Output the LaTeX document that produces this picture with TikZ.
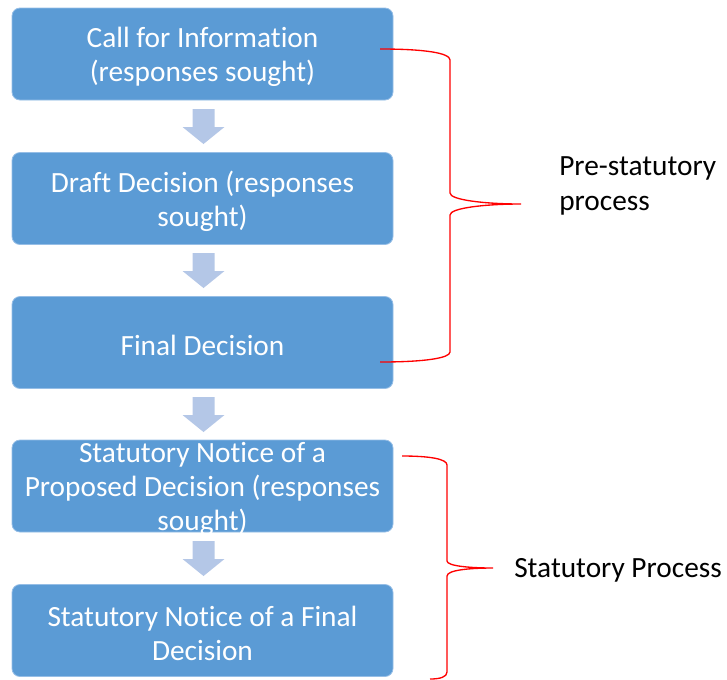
\documentclass[tikz,border=0pt]{standalone}
\usepackage{fontspec}
\setmainfont[Ligatures=NoCommon]{Carlito}
\definecolor{boxblue}{RGB}{91,155,213}
\definecolor{boxedge}{RGB}{150,190,230}
\definecolor{arrowblue}{RGB}{180,199,231}
\definecolor{bracered}{RGB}{255,0,0}
\begin{document}
\begin{tikzpicture}[x=0.75pt,y=-0.75pt,
  stepbox/.style={draw=boxedge, line width=0.6pt, fill=boxblue, rounded corners=6pt,
    minimum width=285.75pt, minimum height=69pt, inner sep=0pt},
  boxtext/.style={inner sep=0pt, align=center, text=white, yshift=-2pt,
    font=\fontsize{22}{25.5}\selectfont},
  sidelabel/.style={anchor=west, inner sep=0pt, align=left, text=black,
    font=\fontsize{22}{26}\selectfont},
  bracepath/.style={draw=bracered, line width=1pt},
  downarrow/.pic={\fill[arrowblue] (-11,0) -- (11,0) -- (11,18) -- (21,18) -- (0,35) -- (-21,18) -- (-11,18) -- cycle;}
]
\useasboundingbox (0,0) rectangle (727,679);
\node[stepbox] (b1) at (202.5,54) {};
\node[stepbox] (b2) at (202.5,198.5) {};
\node[stepbox] (b3) at (202.5,342.5) {};
\node[stepbox] (b4) at (202.5,486) {};
\node[stepbox] (b5) at (202.5,630.5) {};
\node[boxtext] (t1) at (b1.center) {Call for Information\\(responses sought)};
\node[boxtext] (t2) at (b2.center) {Draft Decision (responses\\sought)};
\node[boxtext] (t3) at (b3.center) {Final Decision};
\node[boxtext] (t4) at (b4.center) {Statutory Notice of a\\Proposed Decision (responses\\sought)};
\node[boxtext] (t5) at (b5.center) {Statutory Notice of a Final\\Decision};

\pic (a1) at (203.5,109) {downarrow};
\pic (a2) at (203.5,253) {downarrow};
\pic (a3) at (203.5,397) {downarrow};
\pic (a4) at (203.5,541) {downarrow};

\draw[bracepath] (380,49) .. controls (425,49) and (450,53) .. (450,60) -- (450,193)
  .. controls (450,200) and (485,204) .. (521,204)
  .. controls (485,204) and (450,208) .. (450,215) -- (450,352)
  .. controls (450,358) and (425,362) .. (380,362);
\draw[bracepath] (402,456) .. controls (430,456) and (447,459) .. (447,465) -- (447,561)
  .. controls (447,566) and (470,568) .. (493,568)
  .. controls (470,568) and (447,570) .. (447,576) -- (447,672)
  .. controls (447,677) and (440,679) .. (430,679);

\node[sidelabel] (l1) at (559,186) {Pre-statutory\\process};
\node[sidelabel] (l2) at (514,570) {Statutory Process};
\end{tikzpicture}
\end{document}
